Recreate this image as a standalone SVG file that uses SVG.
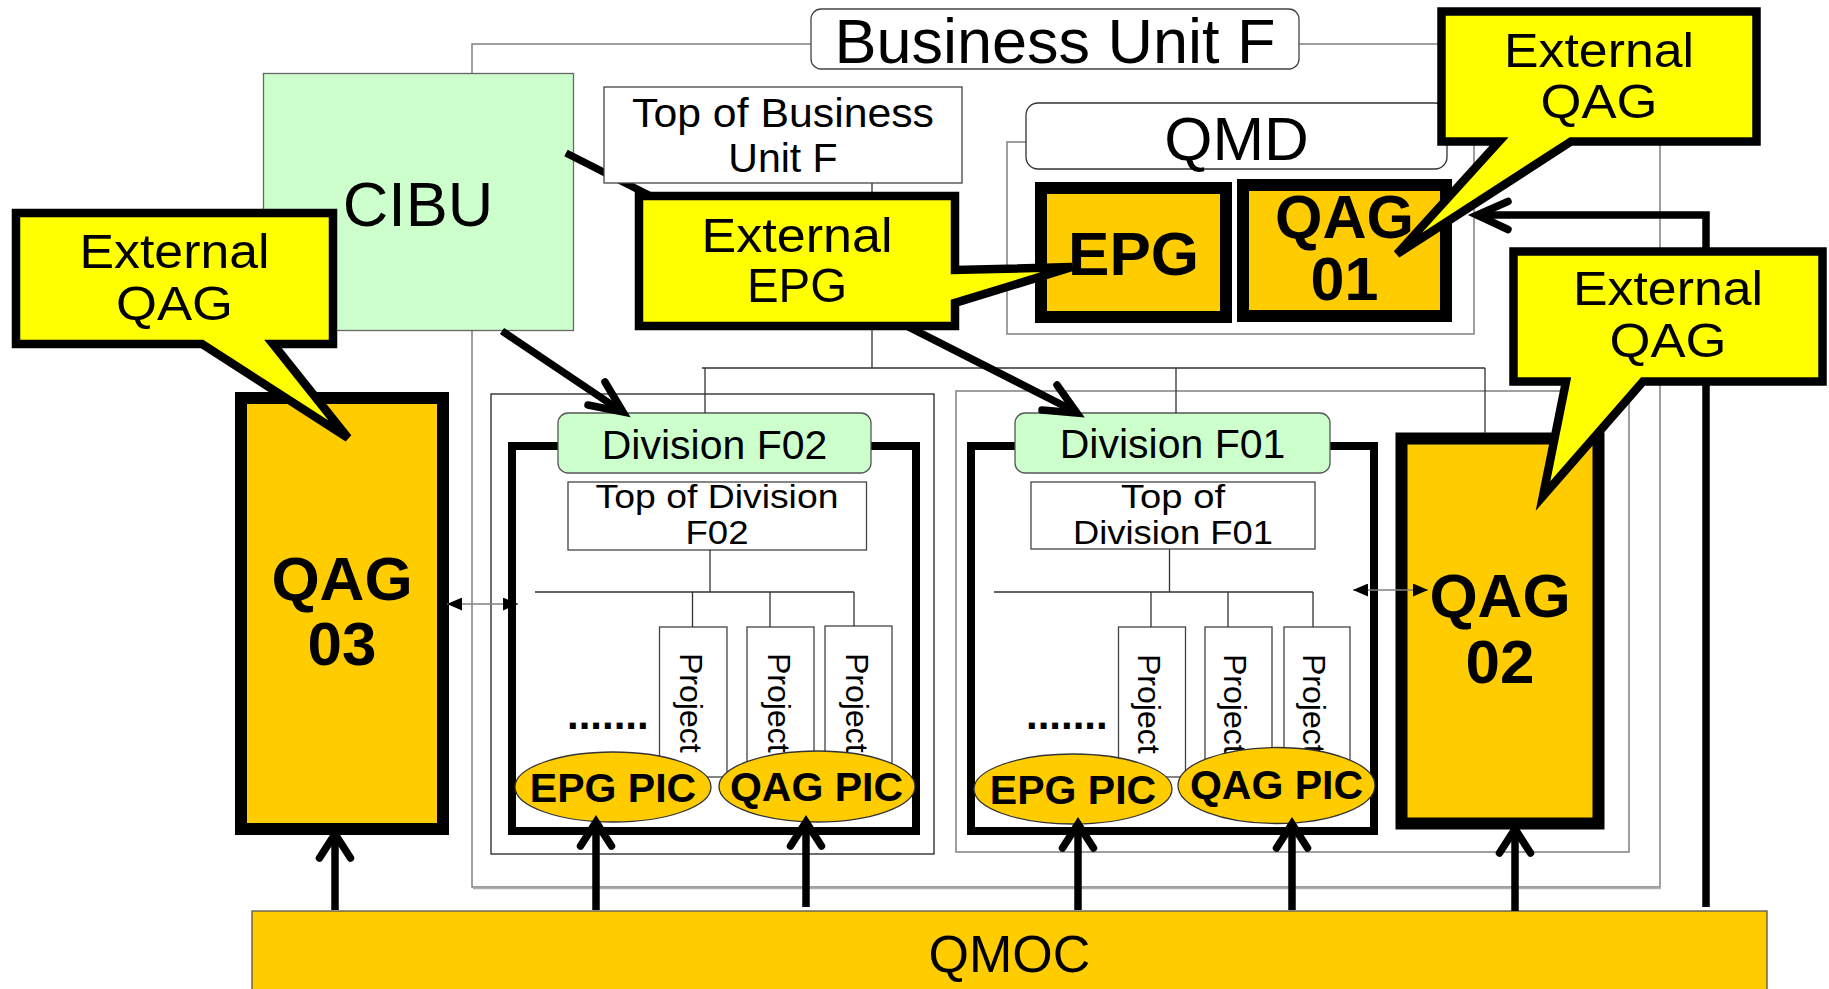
<svg xmlns="http://www.w3.org/2000/svg" width="1829" height="989" viewBox="0 0 1829 989">
  <defs>
    <style>
      .t{font-family:"Liberation Sans",Arial,Helvetica,sans-serif;fill:#000;text-anchor:middle}
      .b{font-weight:bold}
      .frame{fill:none;stroke:#808080;stroke-width:1.5}
      .box{fill:#fff;stroke:#444;stroke-width:1.3}
      .green{fill:#ccffcc;stroke:#555;stroke-width:1.3}
      .org{fill:none;stroke:#333;stroke-width:1.3}
      .heavy{fill:none;stroke:#000;stroke-width:8}
      .qag{fill:#ffcc00;stroke:#000;stroke-width:12}
      .pic{fill:#ffcc00;stroke:#333;stroke-width:1.3}
      .callout{fill:#ffff00;stroke:#000;stroke-width:8.5}
      .shaft{fill:none;stroke:#000;stroke-width:7.5}
      .head{fill:none;stroke:#000;stroke-width:7.5;stroke-linecap:round;stroke-linejoin:miter}
      .link{fill:none;stroke:#808080;stroke-width:1.5}
    </style>
    <marker id="tri" viewBox="0 0 15 13" refX="15" refY="6.5" markerWidth="15" markerHeight="13" markerUnits="userSpaceOnUse" orient="auto-start-reverse">
      <path d="M0,0 L15,6.5 L0,13 Z" fill="#000"/>
    </marker>
  </defs>

  <!-- Business Unit F container -->
  <g id="business-unit-f">
    <rect class="frame" x="472" y="44" width="1188" height="843"/>
    <line x1="473" y1="888.5" x2="1661" y2="888.5" stroke="#b0b0b0" stroke-width="1.5"/>
    <rect x="811" y="9" width="488" height="60" rx="10" fill="#fff" stroke="#444" stroke-width="1.3"/>
    <text class="t" x="1055" y="63" font-size="63">Business Unit F</text>
  </g>

  <!-- QMD container -->
  <g id="qmd">
    <rect class="frame" x="1007" y="142" width="467" height="192"/>
    <rect x="1026" y="103" width="421" height="66" rx="12" fill="#fff" stroke="#333" stroke-width="1.3"/>
    <text class="t" x="1236.5" y="160" font-size="62">QMD</text>
  </g>

  <!-- division outer frames -->
  <g id="division-f02-frame">
    <rect x="491" y="394" width="443" height="460" fill="none" stroke="#333" stroke-width="1.4"/>
  </g>
  <g id="division-f01-frame">
    <rect class="frame" x="956" y="391" width="673" height="461"/>
  </g>

  <!-- CIBU -->
  <g id="cibu">
    <rect x="263.5" y="73.5" width="310" height="257" fill="#ccffcc" stroke="#666" stroke-width="1.3"/>
    <text class="t" x="418" y="226" font-size="63">CIBU</text>
  </g>

  <!-- EPG and QAG 01 inside QMD -->
  <g id="epg">
    <rect class="qag" x="1041" y="188" width="185" height="129"/>
    <text class="t b" x="1133.5" y="275" font-size="62">EPG</text>
  </g>
  <g id="qag-01">
    <rect class="qag" x="1243" y="185" width="203" height="131"/>
    <text class="t b" x="1344.5" y="238" font-size="61">QAG</text>
    <text class="t b" x="1344.5" y="300" font-size="61">01</text>
  </g>

  <!-- Division F02 -->
  <g id="division-f02">
    <rect class="heavy" x="512" y="446" width="404" height="385"/>
    <rect class="green" x="558" y="413" width="313" height="60" rx="10"/>
    <text class="t" x="714.5" y="459" font-size="41">Division F02</text>
  </g>
  <g id="top-of-division-f02">
    <rect class="box" x="568" y="482" width="298.5" height="68"/>
    <text class="t" x="717" y="508" font-size="33" textLength="243" lengthAdjust="spacingAndGlyphs">Top of Division</text>
    <text class="t" x="717" y="544" font-size="33" textLength="63" lengthAdjust="spacingAndGlyphs">F02</text>
  </g>
  <g id="f02-projects">
    <rect class="box" x="659.5" y="627" width="67.5" height="150"/>
    <rect class="box" x="747" y="627" width="67" height="150"/>
    <rect class="box" x="825" y="626" width="67" height="151"/>
    <text class="t" x="680" y="653" font-size="32" style="text-anchor:start" transform="rotate(90 680 653)">Project</text>
    <text class="t" x="767.5" y="653" font-size="32" style="text-anchor:start" transform="rotate(90 767.5 653)">Project</text>
    <text class="t" x="845.5" y="653" font-size="32" style="text-anchor:start" transform="rotate(90 845.5 653)">Project</text>
    <text class="t b" x="567" y="729" font-size="42" style="text-anchor:start">.......</text>
  </g>
  <g id="f02-epg-pic">
    <ellipse class="pic" cx="613" cy="787" rx="98" ry="35"/>
    <text class="t b" x="613" y="802" font-size="41">EPG PIC</text>
  </g>
  <g id="f02-qag-pic">
    <ellipse class="pic" cx="817" cy="786.5" rx="98" ry="35.5"/>
    <text class="t b" x="816.5" y="801" font-size="41">QAG PIC</text>
  </g>

  <!-- Division F01 -->
  <g id="division-f01">
    <rect class="heavy" x="971" y="446" width="403" height="385"/>
    <rect class="green" x="1015" y="413" width="315" height="60" rx="10"/>
    <text class="t" x="1172.5" y="458" font-size="41">Division F01</text>
  </g>
  <g id="top-of-division-f01">
    <rect class="box" x="1031" y="482" width="284" height="67"/>
    <text class="t" x="1173" y="508" font-size="33" textLength="104" lengthAdjust="spacingAndGlyphs">Top of</text>
    <text class="t" x="1173" y="544" font-size="33" textLength="200" lengthAdjust="spacingAndGlyphs">Division F01</text>
  </g>
  <g id="f01-projects">
    <rect class="box" x="1118.5" y="627" width="67" height="150"/>
    <rect class="box" x="1205" y="627" width="67" height="150"/>
    <rect class="box" x="1284" y="627" width="66" height="150"/>
    <text class="t" x="1138" y="654" font-size="32" style="text-anchor:start" transform="rotate(90 1138 654)">Project</text>
    <text class="t" x="1224" y="654" font-size="32" style="text-anchor:start" transform="rotate(90 1224 654)">Project</text>
    <text class="t" x="1303" y="654" font-size="32" style="text-anchor:start" transform="rotate(90 1303 654)">Project</text>
    <text class="t b" x="1026" y="729" font-size="42" style="text-anchor:start">.......</text>
  </g>
  <g id="f01-epg-pic">
    <ellipse class="pic" cx="1073" cy="789" rx="99" ry="35"/>
    <text class="t b" x="1073" y="804" font-size="41">EPG PIC</text>
  </g>
  <g id="f01-qag-pic">
    <ellipse class="pic" cx="1276.5" cy="785.5" rx="98.5" ry="38"/>
    <text class="t b" x="1276.5" y="799" font-size="41">QAG PIC</text>
  </g>

  <!-- QAG 03 and QAG 02 -->
  <g id="qag-03">
    <rect class="qag" x="241" y="398" width="202" height="431"/>
    <text class="t b" x="342" y="600" font-size="62">QAG</text>
    <text class="t b" x="342" y="665" font-size="62">03</text>
  </g>
  <g id="qag-02">
    <rect class="qag" x="1401.5" y="438.5" width="197" height="385" stroke-width="11"/>
    <text class="t b" x="1500" y="617" font-size="62">QAG</text>
    <text class="t b" x="1500" y="683" font-size="62">02</text>
  </g>

  <!-- QMOC -->
  <g id="qmoc">
    <rect x="252" y="911" width="1515" height="100" fill="#ffcc00" stroke="#555" stroke-width="1.3"/>
    <text class="t" x="1009.5" y="972" font-size="52">QMOC</text>
  </g>

  <!-- connectors -->
  <g id="connectors">
    <!-- organisation lines -->
    <path class="org" d="M872,183 V368 M702,368 H1485 M705,368 V413 M1176,368 V413 M1485,368 V433"/>
    <path class="org" d="M710,550 V592 M535,592 H854 M692.5,592 V627 M770,592 V627 M854,592 V626"/>
    <path class="org" d="M1169.5,549 V592 M994,592 H1313 M1151,592 V627 M1228,592 V627 M1313,592 V627"/>

    <!-- CIBU to divisions -->
    <line class="shaft" x1="502" y1="331" x2="621" y2="411"/>
    <path class="head" d="M605,382 L623,412 L588,405"/>
    <line class="shaft" x1="566" y1="153" x2="1074" y2="411"/>
    <path class="head" d="M1057,385 L1077,413 L1042,410"/>

    <!-- QAG links to divisions -->
    <line class="link" x1="447" y1="604" x2="518" y2="604" marker-start="url(#tri)" marker-end="url(#tri)"/>
    <line class="link" x1="1353" y1="590" x2="1428" y2="590" marker-start="url(#tri)" marker-end="url(#tri)"/>

    <!-- QMOC upward arrows -->
    <path class="shaft" d="M335,910 V836 M596,910 V824 M806,907 V824 M1078,910 V826 M1292,910 V826 M1515,911 V831"/>
    <path class="head" d="M319.5,858 L335,834 L350.5,858"/>
    <path class="head" d="M580.5,846 L596,822 L611.5,846"/>
    <path class="head" d="M790.5,846 L806,822 L821.5,846"/>
    <path class="head" d="M1062.5,848 L1078,824 L1093.5,848"/>
    <path class="head" d="M1276.5,848 L1292,824 L1307.5,848"/>
    <path class="head" d="M1499.5,853 L1515,829 L1530.5,853"/>

    <!-- QMOC feedback to QAG 01 -->
    <path class="shaft" d="M1706,907 V215 H1479" stroke-linejoin="miter"/>
    <path class="head" d="M1508,201.5 L1477,215 L1508,229.5"/>
  </g>

  <!-- Top of Business Unit F -->
  <g id="top-of-business-unit-f">
    <rect class="box" x="604" y="87" width="358" height="96"/>
    <text class="t" x="783" y="127" font-size="41" textLength="302" lengthAdjust="spacingAndGlyphs">Top of Business</text>
    <text class="t" x="783" y="172" font-size="41">Unit F</text>
  </g>

  <!-- external callouts -->
  <g id="external-epg">
    <path class="callout" d="M639,196 H955 V270 L1072,267 L955,303 V326 H639 Z" stroke-width="8"/>
    <text class="t" x="797" y="252" font-size="49" textLength="191" lengthAdjust="spacingAndGlyphs">External</text>
    <text class="t" x="797" y="302" font-size="49" textLength="100" lengthAdjust="spacingAndGlyphs">EPG</text>
  </g>
  <g id="external-qag-left">
    <path class="callout" d="M16,213 H333 V344 H273 L348,438 L202,344 H16 Z"/>
    <text class="t" x="174.5" y="268" font-size="49" textLength="190" lengthAdjust="spacingAndGlyphs">External</text>
    <text class="t" x="174.5" y="320" font-size="49" textLength="117" lengthAdjust="spacingAndGlyphs">QAG</text>
  </g>
  <g id="external-qag-top">
    <path class="callout" d="M1441.5,11.5 H1756.5 V141.5 H1571 L1397,254 L1499,141.5 H1441.5 Z" stroke-width="9"/>
    <text class="t" x="1599" y="67" font-size="49" textLength="190" lengthAdjust="spacingAndGlyphs">External</text>
    <text class="t" x="1599" y="118" font-size="49" textLength="117" lengthAdjust="spacingAndGlyphs">QAG</text>
  </g>
  <g id="external-qag-right">
    <path class="callout" d="M1513.5,251.5 H1822.5 V381.5 H1643 L1543,496 L1566,381.5 H1513.5 Z" stroke-width="9"/>
    <text class="t" x="1668" y="305" font-size="49" textLength="190" lengthAdjust="spacingAndGlyphs">External</text>
    <text class="t" x="1668" y="357" font-size="49" textLength="117" lengthAdjust="spacingAndGlyphs">QAG</text>
  </g>
</svg>
